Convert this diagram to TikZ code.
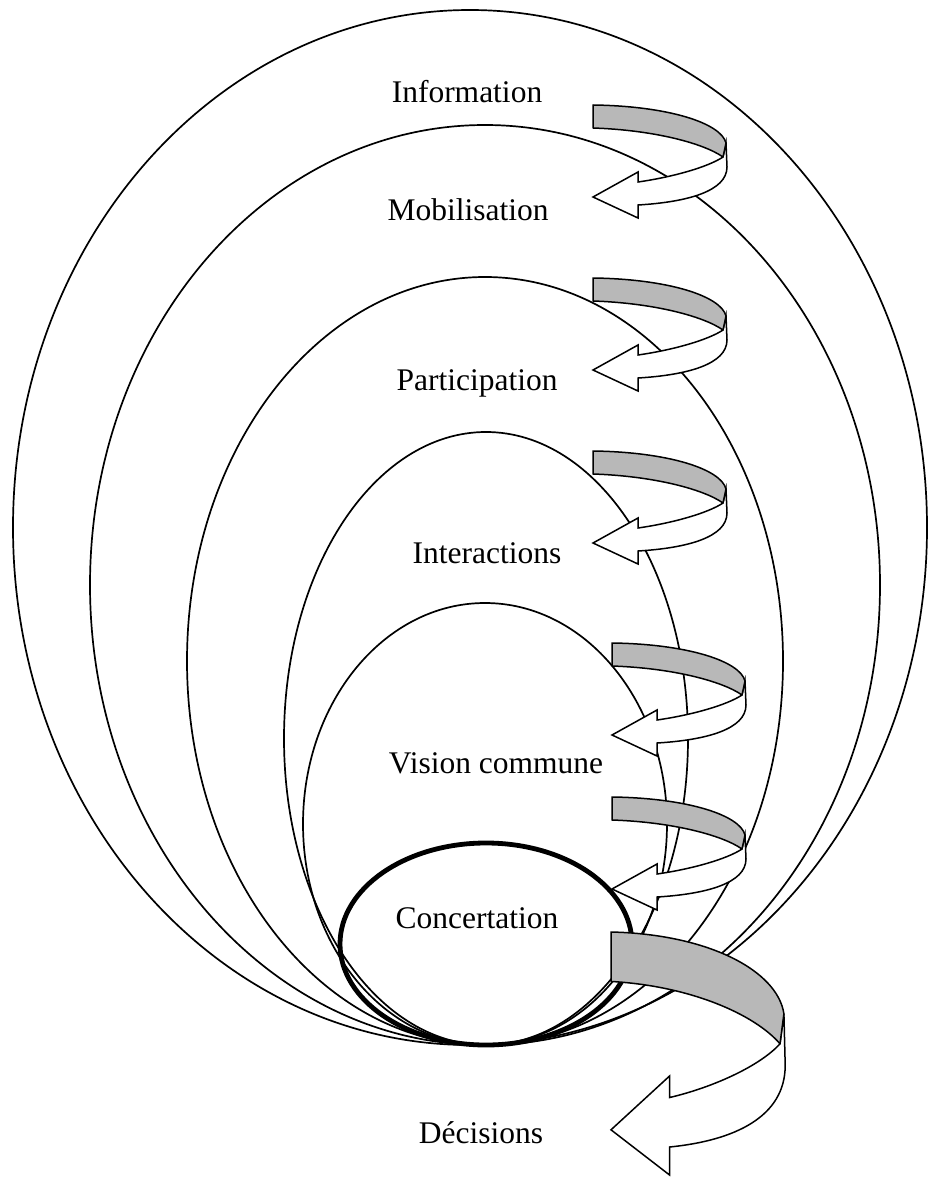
\documentclass[tikz,border=0pt]{standalone}
\usepackage{fontspec}
\setmainfont{Liberation Serif}
\begin{document}
\begin{tikzpicture}[x=1pt,y=-1pt,
  ring/.style={draw=black,line width=1.7pt},
  corering/.style={draw=black,line width=4.8pt},
  band/.style={draw=black,line width=1.5pt,line join=round,fill=black!28},
  face/.style={draw=black,line width=1.5pt,line join=miter,fill=white},
  stage/.style={anchor=base,inner sep=0pt,font=\fontsize{31.5}{36}\selectfont}]

% page
\fill[white] (0,0) rectangle (930,1177);
\useasboundingbox (0,0) rectangle (930,1177);

% twisted ribbon arrow: #1,#2 = top-left corner of the grey band, #3,#4 = scales
\newcommand\twistarrow[4]{%
  \begin{scope}[shift={(#1,#2)},xscale=#3,yscale=#4]
    \filldraw[face] (130,52) .. controls (115,62) and (80,72) .. (45,77)
      -- (45,67) -- (0,92) -- (45,113) -- (45,100)
      .. controls (95,97) and (134,86) .. (134,62) -- (133,38) -- cycle;
    \filldraw[band] (0,0) .. controls (75,1) and (128,18) .. (133,38)
      -- (130,52) .. controls (110,38) and (60,25) .. (0,23) -- cycle;
  \end{scope}}

% nested stages, all touching at the bottom
\draw[ring] (470,527.5) ellipse [x radius=457pt, y radius=517.5pt];
\draw[ring] (485,585) ellipse [x radius=395pt, y radius=460pt];
\draw[ring] (485,661) ellipse [x radius=298pt, y radius=384pt];
\draw[ring] (486,738.5) ellipse [x radius=202pt, y radius=306.5pt];
\draw[ring] (485,824) ellipse [x radius=182pt, y radius=221pt];
\draw[corering] (486,944) ellipse [x radius=146pt, y radius=101pt];

% passage arrows between stages
\twistarrow{593}{105}{1}{1}
\twistarrow{593}{278}{1}{1}
\twistarrow{593}{451}{1}{1}
\twistarrow{612}{643}{1}{1}
\twistarrow{612}{797}{1}{1}
\twistarrow{611}{932}{1.3}{2.15}

% stage names
\node[stage] (info) at (467,103) {Information};
\node[stage] (mobi) at (468,220) {Mobilisation};
\node[stage] (part) at (477,390) {Participation};
\node[stage] (inter) at (487,563) {Interactions};
\node[stage] (vision) at (496,773) {Vision commune};
\node[stage] (conc) at (477,928) {Concertation};
\node[stage] (deci) at (481,1143) {Décisions};
\end{tikzpicture}
\end{document}
